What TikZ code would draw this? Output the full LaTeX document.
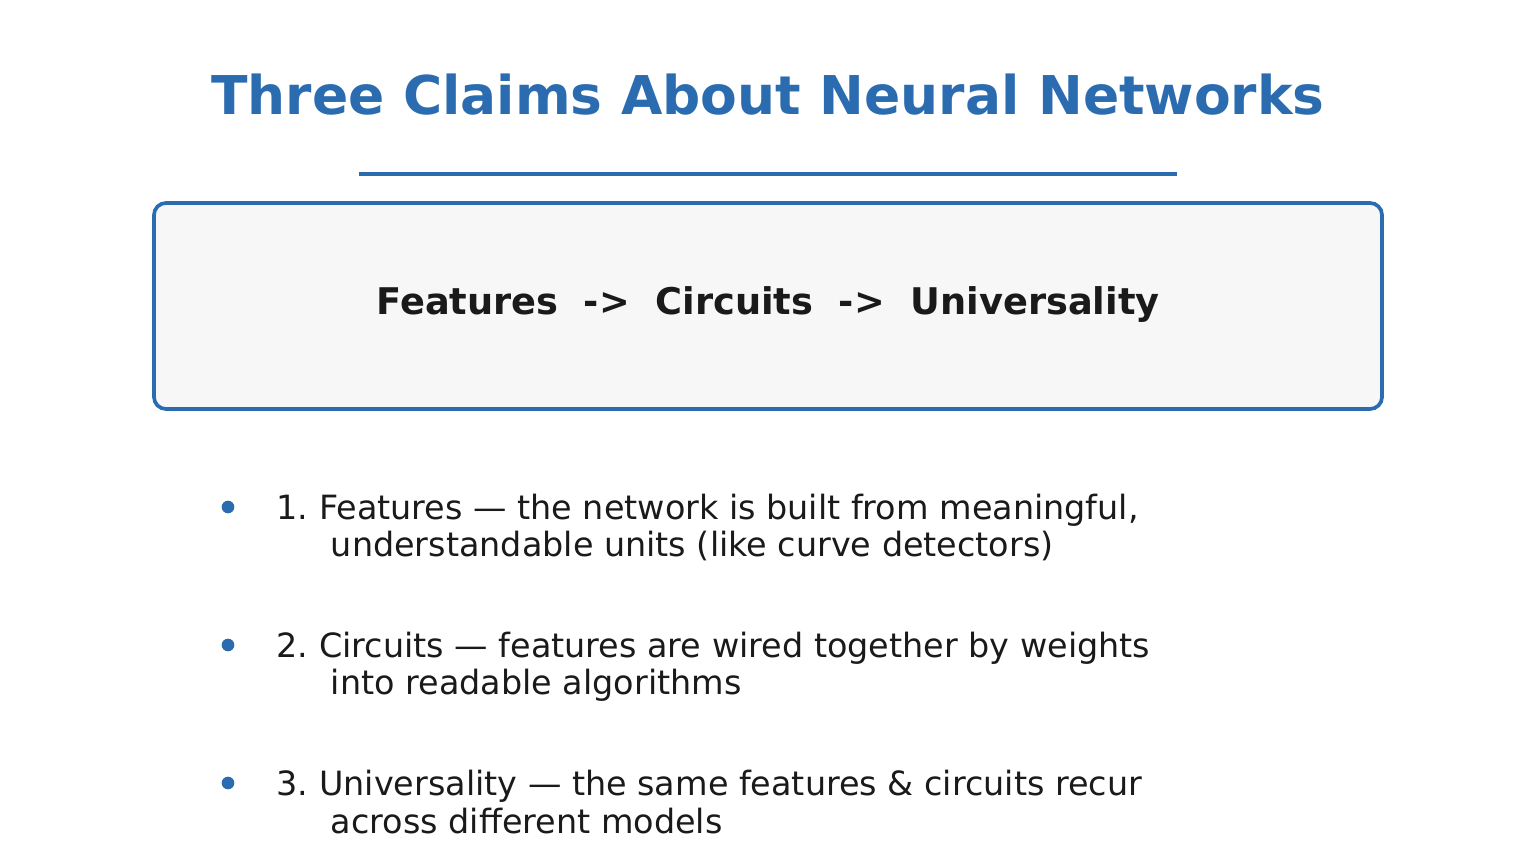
\documentclass[tikz,border=0pt]{standalone}
\usepackage{fontspec}
\setmainfont{DejaVu Sans}
\definecolor{slideblue}{HTML}{2B6CB0}
\definecolor{slideink}{HTML}{1A1A1A}
\definecolor{boxfill}{HTML}{F7F7F7}
\tikzset{
  claim/.style={anchor=base west,align=left,text=slideink,inner sep=0pt,
    font=\fontsize{9.5pt}{10.8pt}\selectfont\frenchspacing},
  dot/.style={circle,fill=slideblue,inner sep=0pt,minimum size=3.6pt}
}
\begin{document}
\begin{tikzpicture}[x=0.01cm,y=-0.01cm]
  \useasboundingbox (0,0) rectangle (1536,864);
  % heading
  \node[text=slideblue,font=\fontsize{15.2pt}{16pt}\selectfont\bfseries] (title) at (768,95) {Three Claims About Neural Networks};
  \coordinate (ruleL) at (359,174);
  \coordinate (ruleR) at (1177,174);
  \draw[slideblue,line width=0.9pt] (ruleL) -- (ruleR);
  % pipeline box
  \draw[slideblue,fill=boxfill,line width=1.05pt,rounded corners=3.4pt] (154,203) rectangle (1382,409);
  \node[text=slideink,font=\fontsize{10.45pt}{12pt}\selectfont\bfseries] (flow) at (768,305) {Features\ \ ->\ \ Circuits\ \ ->\ \ Universality};
  % claims (anchored on the last line's baseline)
  \node[dot] (d1) at (228,507) {};
  \node[claim] (c1) at (276,557) {1. Features — the network is built from meaningful,\\\hspace*{15.4pt}understandable units (like curve detectors)};
  \node[dot] (d2) at (228,645) {};
  \node[claim] (c2) at (276,695) {2. Circuits — features are wired together by weights\\\hspace*{15.4pt}into readable algorithms};
  \node[dot] (d3) at (228,783) {};
  \node[claim] (c3) at (276,833) {3. Universality — the same features \& circuits recur\\\hspace*{15.4pt}across different models};
\end{tikzpicture}
\end{document}
